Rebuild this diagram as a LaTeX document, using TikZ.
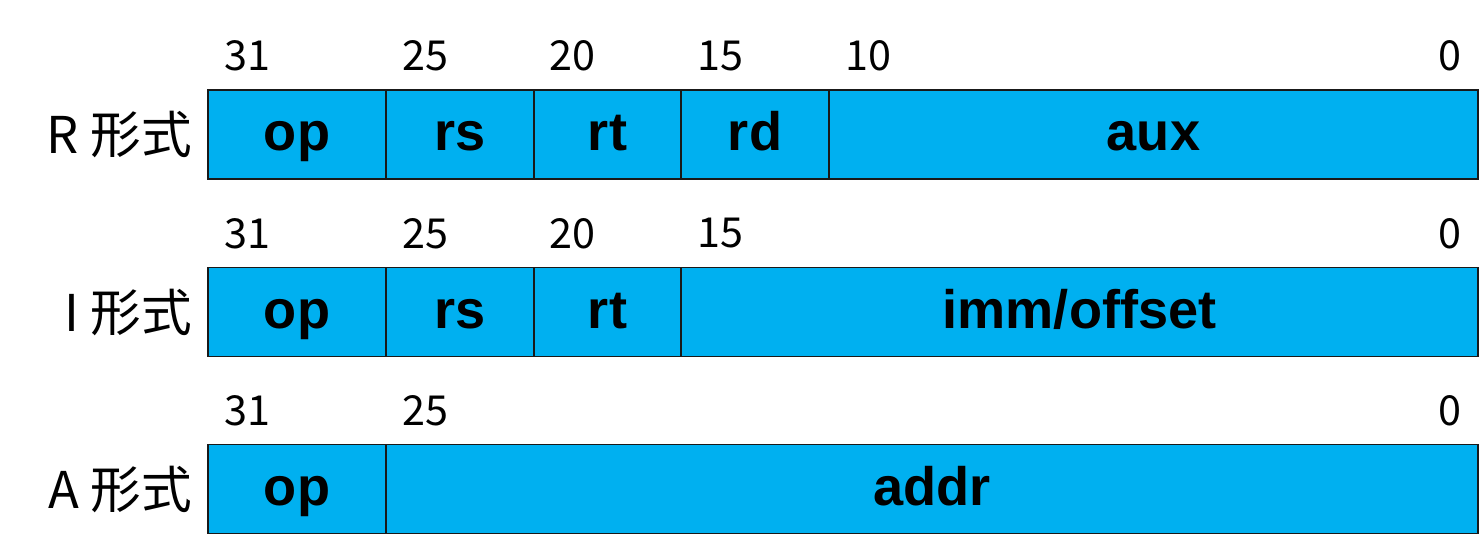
\documentclass[tikz,border=0pt]{standalone}
\usepackage{fontspec}
\setmainfont{Liberation Sans}
\newfontfamily\jp{Noto Sans CJK JP}
\definecolor{fieldblue}{HTML}{00B0F0}
\tikzset{
  field/.style={draw=black!90, line width=1.3pt, fill=fieldblue, inner sep=0pt,
    minimum height=66.75pt, text height=31pt, text depth=7pt,
    font=\fontsize{40.6}{40.6}\selectfont\bfseries, text=black},
  bitnum/.style={font=\jp\fontsize{31}{31}\selectfont, inner sep=0pt},
  rowlabel/.style={font=\jp\fontsize{38}{38}\selectfont, anchor=east, inner sep=0pt},
}
\begin{document}
\begin{tikzpicture}[x=0.75pt,y=-0.75pt]
\useasboundingbox (0,0) rectangle (1481,550);
% R row
\node[field, minimum width=133.5pt] (ro) at (297,134.5) {op};
\node[field, minimum width=111pt] (rs) at (460,134.5) {rs};
\node[field, minimum width=110.25pt] (rt) at (607.5,134.5) {rt};
\node[field, minimum width=111pt] (rd) at (755,134.5) {rd};
\node[field, minimum width=487.25pt] (ra) at (1153.5,134.5) {aux};
\node[rowlabel] (rl) at (192,134.5) {R 形式};
\node[bitnum, anchor=west] (r31) at (224,56) {31};
\node[bitnum, anchor=west] (r25) at (402,56) {25};
\node[bitnum, anchor=west] (r20) at (549,56) {20};
\node[bitnum, anchor=west] (r15) at (697,56) {15};
\node[bitnum, anchor=west] (r10) at (845,56) {10};
\node[bitnum, anchor=east] (r0) at (1462,56) {0};
% I row
\node[field, minimum width=133.5pt] (io) at (297,312) {op};
\node[field, minimum width=111pt] (is) at (460,312) {rs};
\node[field, minimum width=110.25pt] (it) at (607.5,312) {rt};
\node[field, minimum width=598.25pt] (ii) at (1079.5,312) {imm/offset};
\node[rowlabel] (il) at (192,312) {I 形式};
\node[bitnum, anchor=west] (i31) at (224,233.5) {31};
\node[bitnum, anchor=west] (i25) at (402,233.5) {25};
\node[bitnum, anchor=west] (i20) at (549,233.5) {20};
\node[bitnum, anchor=west] (i15) at (697,233.5) {15};
\node[bitnum, anchor=east] (i0) at (1462,233.5) {0};
% A row
\node[field, minimum width=133.5pt] (ao) at (297,489) {op};
\node[field, minimum width=819.5pt] (aa) at (932,489) {addr};
\node[rowlabel] (al) at (192,489) {A 形式};
\node[bitnum, anchor=west] (a31) at (224,410.5) {31};
\node[bitnum, anchor=west] (a25) at (402,410.5) {25};
\node[bitnum, anchor=east] (a0) at (1462,410.5) {0};
\end{tikzpicture}
\end{document}
